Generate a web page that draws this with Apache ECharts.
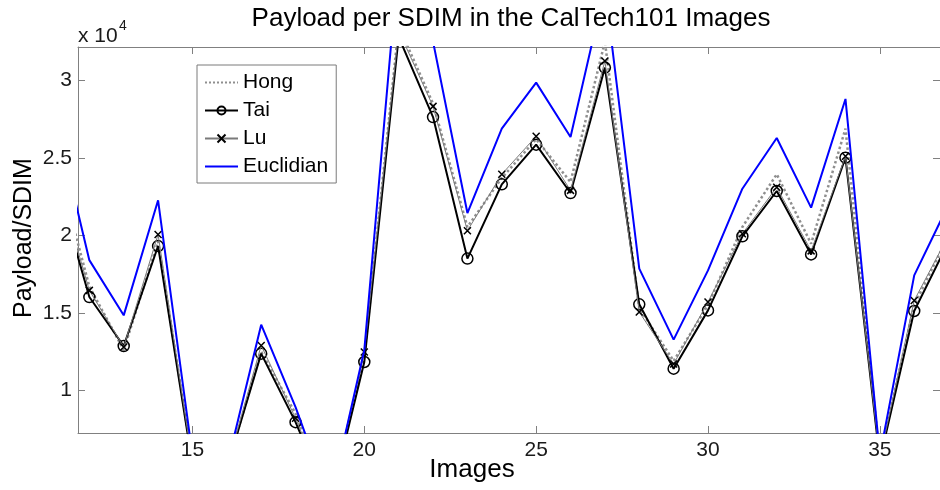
<!DOCTYPE html>
<html>
<head>
<meta charset="utf-8">
<script src="https://cdn.jsdelivr.net/npm/echarts@6/dist/echarts.min.js"></script>
<style>
  html, body { margin: 0; padding: 0; background: #fff; }
  #chart { width: 940px; height: 490px; }
</style>
</head>
<body>
<div id="chart"></div>
<script>
// Image index in the CalTech101 set
const images = [11, 12, 13, 14, 15, 16, 17, 18, 19, 20, 21, 22, 23, 24, 25, 26, 27, 28, 29, 30, 31, 32, 33, 34, 35, 36, 37];

// Payload per SDIM for each method
const hong = [25100, 16700, 12600, 19600, 5400, 5000, 12500, 8500, 2900, 12200, 33500, 28500, 20540, 23700, 26200, 23440, 32500, 15300, 11900, 15500, 20540, 23940, 19460, 26880, 5700, 15500, 20000];
const tai = [23800, 16020, 12860, 19310, 5200, 4960, 12370, 7950, 2700, 11830, 32800, 27630, 18500, 23290, 25850, 22730, 30820, 15550, 11400, 15160, 19940, 22860, 18770, 25010, 5500, 15120, 19600];
const lu = [24100, 16450, 12800, 20060, 5300, 5000, 12900, 8200, 2800, 12470, 33200, 28320, 20300, 23940, 26390, 22900, 31250, 15050, 11700, 15700, 20100, 23100, 19000, 25100, 5600, 15800, 20000];
const euclidian = [27700, 18400, 14840, 22260, 5800, 5100, 14240, 8920, 2800, 12600, 37900, 32500, 21440, 26880, 29850, 26340, 36000, 17850, 13270, 17740, 23010, 26280, 21790, 28800, 5800, 17420, 22000];

// Axis ticks
const xTicks = [15, 20, 25, 30, 35];
const yTicks = [10000, 15000, 20000, 25000, 30000];

const FONT = '"Liberation Sans", Arial, Helvetica, sans-serif';
const FRAME = '#808080';
const X_MIN = 11.67, X_MAX = 36.75;
const Y_MIN = 7250, Y_MAX = 32150;
const CLEAR = 'rgba(0,0,0,0)';

const pairs = vals => images.map((x, i) => [x, vals[i]]);

const chart = echarts.init(document.getElementById('chart'), null, { renderer: 'canvas' });

const tickStyle = { show: true, inside: true, length: 7, lineStyle: { color: FRAME, width: 1 } };

chart.setOption({
  animation: false,
  backgroundColor: '#fff',
  grid: { left: 78, top: 47, width: 868, height: 386, containLabel: false },
  xAxis: [
    {
      type: 'value', min: X_MIN, max: X_MAX, position: 'bottom',
      axisLine: { show: true, onZero: false, lineStyle: { color: FRAME, width: 1 } },
      axisTick: Object.assign({ customValues: xTicks }, tickStyle),
      axisLabel: { customValues: xTicks, fontSize: 21, fontFamily: FONT, color: '#1a1a1a', margin: 7 },
      splitLine: { show: false }
    },
    {
      type: 'value', min: X_MIN, max: X_MAX, position: 'top',
      axisLine: { show: true, onZero: false, lineStyle: { color: FRAME, width: 1 } },
      axisTick: Object.assign({ customValues: xTicks }, tickStyle),
      axisLabel: { show: false },
      splitLine: { show: false }
    }
  ],
  yAxis: [
    {
      type: 'value', min: Y_MIN, max: Y_MAX, position: 'left',
      axisLine: { show: true, onZero: false, lineStyle: { color: FRAME, width: 1 } },
      axisTick: Object.assign({ customValues: yTicks }, tickStyle),
      axisLabel: {
        customValues: yTicks, fontSize: 21, fontFamily: FONT, color: '#1a1a1a', margin: 6,
        formatter: v => String(v / 10000)
      },
      splitLine: { show: false }
    },
    {
      type: 'value', min: Y_MIN, max: Y_MAX, position: 'right',
      axisLine: { show: true, onZero: false, lineStyle: { color: FRAME, width: 1 } },
      axisTick: Object.assign({ customValues: yTicks }, tickStyle),
      axisLabel: { show: false },
      splitLine: { show: false }
    }
  ],
  legend: {
    orient: 'vertical',
    left: 197, top: 65,
    padding: [7, 8, 6, 7],
    itemGap: 7,
    itemWidth: 33, itemHeight: 10,
    backgroundColor: '#fff',
    borderColor: '#7a7a7a', borderWidth: 1, borderRadius: 0,
    textStyle: { fontSize: 21, fontFamily: FONT, color: '#000', lineHeight: 21 },
    data: ['Hong', 'Tai', 'Lu', 'Euclidian']
  },
  series: [
    {
      name: 'Hong', type: 'line', data: pairs(hong), clip: true, z: 2,
      symbol: 'none',
      lineStyle: { color: '#8f8f8f', width: 2.5, type: 'dotted' },
      itemStyle: { color: CLEAR, borderWidth: 0 }
    },
    {
      name: 'Tai', type: 'line', data: pairs(tai), clip: true, z: 3,
      symbol: 'circle', symbolSize: 11, showAllSymbol: true,
      lineStyle: { color: '#000', width: 2 },
      itemStyle: { color: CLEAR, borderColor: '#000', borderWidth: 1.5 }
    },
    {
      name: 'Lu', type: 'line', data: pairs(lu), clip: true, z: 4,
      symbol: 'path://M0,0L10,10M10,0L0,10', symbolSize: 7, showAllSymbol: true,
      lineStyle: { color: '#7a7a7a', width: 1 },
      itemStyle: { color: CLEAR, borderColor: '#000', borderWidth: 1.5 }
    },
    {
      name: 'Euclidian', type: 'line', data: pairs(euclidian), clip: true, z: 5,
      symbol: 'none',
      lineStyle: { color: '#0000ff', width: 2 },
      itemStyle: { color: CLEAR, borderWidth: 0 }
    }
  ],
  graphic: [
    {
      type: 'text', x: 511, y: 19,
      style: { text: 'Payload per SDIM in the CalTech101 Images', fontSize: 26, fontFamily: FONT, fill: '#000', align: 'center', verticalAlign: 'middle' }
    },
    {
      type: 'text', x: 78, y: 36,
      style: { text: 'x 10', fontSize: 21, fontFamily: FONT, fill: '#1a1a1a', align: 'left', verticalAlign: 'middle' }
    },
    {
      type: 'text', x: 119, y: 26,
      style: { text: '4', fontSize: 14, fontFamily: FONT, fill: '#1a1a1a', align: 'left', verticalAlign: 'middle' }
    },
    {
      type: 'text', x: 24, y: 238, rotation: Math.PI / 2,
      style: { text: 'Payload/SDIM', fontSize: 25, fontFamily: FONT, fill: '#000', align: 'center', verticalAlign: 'middle' }
    },
    {
      type: 'text', x: 472, y: 470,
      style: { text: 'Images', fontSize: 26, fontFamily: FONT, fill: '#000', align: 'center', verticalAlign: 'middle' }
    }
  ]
});
</script>
</body>
</html>
